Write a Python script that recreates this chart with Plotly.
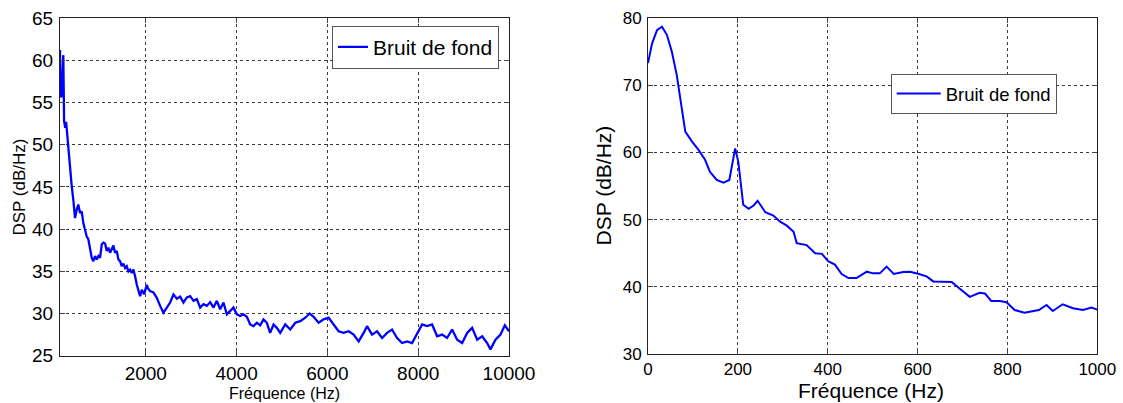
import plotly.graph_objects as go

# ---------------- data ----------------
freq_left = [
    110, 118, 140, 183, 200, 225, 245, 262, 293, 315,
    331, 368, 403, 441, 478, 513, 551, 588, 624, 662,
    699, 734, 772, 809, 845, 882, 919, 956, 992, 1030,
    1066, 1103, 1140, 1176, 1213, 1250, 1286, 1323, 1360, 1397,
    1433, 1470, 1507, 1544, 1580, 1617, 1654, 1690, 1727, 1764,
    1802, 1874, 1911, 1963, 2022, 2046, 2095, 2168, 2242, 2315,
    2388, 2463, 2536, 2609, 2684, 2757, 2830, 2904, 2977, 3050,
    3124, 3197, 3270, 3344, 3418, 3491, 3565, 3638, 3711, 3785,
    3858, 3931, 4005, 4078, 4152, 4225, 4299, 4372, 4446, 4519,
    4592, 4666, 4739, 4813, 4886, 4961, 5072, 5182, 5292, 5402,
    5513, 5608, 5696, 5806, 5916, 6027, 6137, 6247, 6357, 6468,
    6578, 6688, 6798, 6873, 6983, 7093, 7204, 7314, 7424, 7535,
    7645, 7755, 7865, 7976, 8086, 8196, 8306, 8417, 8527, 8637,
    8747, 8858, 8968, 9078, 9188, 9299, 9409, 9519, 9592, 9702,
    9813, 9908, 10000,
]
dsp_left = [
    61.2, 56.0, 55.6, 60.6, 52.8, 52.0, 52.7, 51.6, 50.2, 48.6,
    47.0, 45.1, 43.5, 41.3, 42.3, 42.9, 41.9, 42.1, 40.7, 39.9,
    39.1, 38.8, 37.8, 36.6, 36.2, 36.8, 36.4, 36.8, 36.6, 38.2,
    38.4, 38.3, 37.4, 37.8, 37.2, 37.6, 38.05, 37.2, 37.4, 36.4,
    36.2, 35.6, 35.9, 35.4, 35.6, 35.0, 35.2, 34.8, 35.2, 34.4,
    33.4, 32.05, 32.8, 32.3, 33.4, 33.0, 32.65, 32.5, 31.85, 30.9,
    30.1, 30.7, 31.3, 32.25, 31.75, 32.0, 31.3, 31.9, 32.05, 31.5,
    31.7, 30.7, 31.1, 30.9, 31.35, 30.7, 31.5, 30.5, 31.3, 29.9,
    30.3, 30.7, 29.9, 29.7, 29.9, 29.6, 28.7, 28.5, 28.9, 28.6,
    29.3, 28.9, 27.7, 28.7, 28.3, 27.7, 28.7, 28.1, 28.9, 29.1,
    29.5, 30.0, 29.6, 28.9, 29.3, 29.5, 28.7, 27.9, 27.7, 27.9,
    27.5, 26.7, 27.7, 28.5, 27.5, 27.9, 27.1, 27.7, 28.1, 27.1,
    26.5, 26.7, 26.5, 27.7, 28.7, 28.5, 28.7, 27.3, 27.5, 27.1,
    28.1, 26.9, 26.5, 27.7, 28.3, 26.9, 27.3, 26.5, 25.75, 26.9,
    27.5, 28.6, 27.9,
]

freq_right = [
    0, 9, 20, 31, 42, 53, 64, 73, 83, 98,
    112, 127, 138, 153, 168, 181, 194, 201, 212, 224,
    235, 244, 261, 279, 294, 309, 324, 331, 353, 372,
    387, 401, 416, 431, 446, 464, 487, 501, 516, 531,
    547, 568, 583, 601, 620, 635, 657, 676, 694, 716,
    738, 750, 764, 783, 798, 816, 838, 853, 870, 887,
    901, 923, 946, 968, 987, 1000,
]
dsp_right = [
    73.3, 76.2, 78.2, 78.7, 77.5, 75.0, 71.5, 67.5, 63.1, 61.6,
    60.4, 58.9, 57.1, 55.9, 55.5, 55.9, 60.6, 58.6, 52.2, 51.6,
    52.1, 52.8, 51.1, 50.6, 49.7, 49.1, 48.2, 46.5, 46.2, 45.0,
    44.9, 43.8, 43.3, 41.9, 41.3, 41.3, 42.25, 42.0, 42.0, 43.0,
    41.9, 42.2, 42.25, 41.95, 41.55, 40.8, 40.8, 40.7, 39.7, 38.5,
    39.1, 39.0, 37.9, 37.9, 37.7, 36.55, 36.15, 36.3, 36.55, 37.3,
    36.4, 37.4, 36.8, 36.55, 36.9, 36.6,
]

series_name = "Bruit de fond"
xlabel = "Fréquence (Hz)"
ylabel = "DSP (dB/Hz)"
left_xticks = [2000, 4000, 6000, 8000, 10000]
left_yticks = [25, 30, 35, 40, 45, 50, 55, 60, 65]
right_xticks = [0, 200, 400, 600, 800, 1000]
right_yticks = [30, 40, 50, 60, 70, 80]

# ---------------- figure ----------------
W, H = 1123, 403
FONT = "Liberation Sans, Arial, Helvetica, sans-serif"
BLUE = "#0000FF"

def px_x(p):
    return p / W

def px_y(p):
    return 1 - p / H

fig = go.Figure()
fig.add_trace(go.Scatter(x=freq_left, y=dsp_left, mode="lines", name=series_name,
                         line=dict(color=BLUE, width=2.3), xaxis="x", yaxis="y",
                         legend="legend"))
fig.add_trace(go.Scatter(x=freq_right, y=dsp_right, mode="lines", name=series_name,
                         line=dict(color=BLUE, width=2), xaxis="x2", yaxis="y2",
                         legend="legend2"))

grid = dict(showgrid=True, gridcolor="#3a3a3a", gridwidth=1, griddash="3px,3px",
            showline=True, linecolor="#222222", linewidth=1, mirror="ticks",
            ticks="inside", ticklen=5, tickcolor="#444444", zeroline=False,
            automargin=False)

fig.update_layout(
    width=W, height=H,
    margin=dict(l=0, r=0, t=0, b=0),
    paper_bgcolor="white", plot_bgcolor="white",
    font=dict(family=FONT, color="black"),
    xaxis=dict(domain=[px_x(60), px_x(509)], range=[110, 10000], tickvals=left_xticks,
               ticktext=[str(v) for v in left_xticks],
               tickfont=dict(size=19), anchor="y", ticklabelstandoff=0, **grid),
    yaxis=dict(domain=[px_y(355.7), px_y(18)], range=[25, 65], tickvals=left_yticks,
               ticktext=[str(v) for v in left_yticks],
               tickfont=dict(size=19), anchor="x", ticklabelstandoff=2, **grid),
    xaxis2=dict(domain=[px_x(648), px_x(1097.3)], range=[0, 1000], tickvals=right_xticks,
                ticktext=[str(v) for v in right_xticks],
                tickfont=dict(size=17), anchor="y2", ticklabelstandoff=0, **grid),
    yaxis2=dict(domain=[px_y(354), px_y(18)], range=[30, 80], tickvals=right_yticks,
                ticktext=[str(v) for v in right_yticks],
                tickfont=dict(size=17), anchor="x2", ticklabelstandoff=2, **grid),
    legend=dict(x=px_x(332), y=px_y(25.7), xanchor="left", yanchor="top",
                bgcolor="white", bordercolor="#555555", borderwidth=1,
                font=dict(size=21), itemwidth=30, tracegroupgap=0),
    legend2=dict(x=px_x(890.7), y=px_y(74), xanchor="left", yanchor="top",
                 bgcolor="white", bordercolor="#555555", borderwidth=1,
                 font=dict(size=18.5), itemwidth=44, tracegroupgap=0),
    showlegend=True,
)

annotations = [
    dict(text=ylabel, x=px_x(18.5), y=px_y(187), textangle=-90, font=dict(size=17)),
    dict(text=xlabel, x=px_x(284), y=px_y(393), font=dict(size=16)),
    dict(text=ylabel, x=px_x(603), y=px_y(185.5), textangle=-90, font=dict(size=21)),
    dict(text=xlabel, x=px_x(871), y=px_y(390), font=dict(size=21)),
]
for a in annotations:
    a.update(xref="paper", yref="paper", showarrow=False, xanchor="center", yanchor="middle")
fig.update_layout(annotations=annotations)

fig.write_html(
    "out.html",
    config={"displayModeBar": False},
    post_script="document.body.style.margin='0';document.body.style.padding='0';"
                "document.body.style.overflow='hidden';",
)
